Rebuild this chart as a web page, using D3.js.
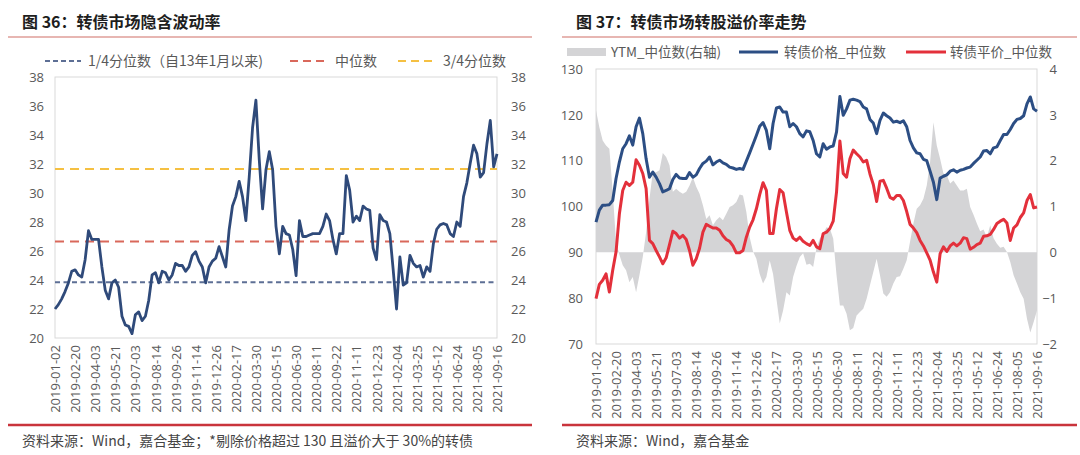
<!DOCTYPE html>
<html><head><meta charset="utf-8">
<script src="https://cdn.jsdelivr.net/npm/d3@7"></script>
<style>
body{margin:0;background:#fff;}
svg{display:block;}
text{font-family:"Open Sans","Noto Sans CJK SC",sans-serif;}
</style></head><body>
<svg id="c" width="1080" height="455"></svg>
<script>
// ---------- data ----------
const tickLabels = ["2019-01-02","2019-02-20","2019-04-03","2019-05-21","2019-07-03","2019-08-14","2019-09-26","2019-11-14","2019-12-26","2020-02-17","2020-03-30","2020-05-15","2020-06-30","2020-08-11","2020-09-22","2020-11-11","2020-12-23","2021-02-04","2021-03-25","2021-05-12","2021-06-24","2021-08-05","2021-09-16"];
const tickStep = 30;    // trading days between tick labels
const sampleStep = 5;   // trading days between readings

// Fig 36: implied volatility
const ivValues = [22.0,22.3,22.7,23.2,23.8,24.6,24.7,24.35,24.2,25.4,27.4,26.8,26.8,26.8,24.9,23.3,22.7,23.8,24.0,23.5,
  21.5,20.9,20.8,20.3,21.6,21.8,21.2,21.5,22.6,24.35,24.5,23.8,24.6,24.5,24.0,24.35,25.15,25.0,25.0,24.6,
  24.9,25.7,25.95,25.3,24.9,23.8,24.9,25.3,25.5,26.3,25.6,24.9,27.45,29.1,29.75,30.8,29.75,28.1,31.1,34.5,
  36.4,32.3,28.9,31.6,32.85,31.6,27.7,25.8,27.7,27.2,27.1,26.1,24.3,28.1,27.0,27.0,27.1,27.2,27.2,27.2,
  27.7,28.55,28.1,26.8,25.8,27.2,27.2,31.2,30.2,28.0,28.4,28.1,29.1,28.9,28.8,26.2,25.4,28.5,28.1,28.0,
  27.2,24.7,22.0,25.6,23.65,23.8,25.7,25.15,24.9,25.0,24.2,24.9,24.6,26.5,27.5,27.8,27.9,27.8,27.2,27.0,
  28.0,27.7,29.75,30.7,32.05,33.3,32.7,31.1,31.4,33.4,35.0,31.8,32.7];
const quartileNames = ["1/4分位数（自13年1月以来)","中位数","3/4分位数"];
const quartileValues = [23.85, 26.65, 31.65];

// Fig 37
const seriesNames = ["YTM_中位数(右轴)","转债价格_中位数","转债平价_中位数"];
const priceValues = [96.6,99.2,100.3,100.3,100.4,101.3,106.1,109.7,112.6,113.7,115.4,113.4,117.4,119.3,115.9,110.4,106.4,107.5,106.4,105.0,
  103.2,103.5,103.9,105.9,107.0,106.2,106.1,106.1,107.4,106.4,106.9,108.3,109.4,109.9,110.8,109.1,109.7,110.1,109.5,109.2,
  108.6,108.4,108.1,108.3,108.1,109.9,111.7,113.6,115.5,117.5,118.3,116.6,112.6,118.1,121.5,121.7,120.6,120.6,117.4,118.1,
  117.4,115.9,115.2,116.5,116.3,114.4,
  111.5,110.8,113.7,112.5,113.0,113.2,116.3,124.0,119.9,121.3,123.2,123.4,123.2,122.9,121.7,121.3,119.0,118.2,115.9,118.8,
  120.4,119.8,119.3,118.4,118.6,118.3,118.7,117.4,114.4,112.8,111.7,111.5,110.3,110.0,107.7,105.3,101.5,106.2,106.6,106.9,
  107.7,108.0,107.5,107.9,108.1,108.4,108.6,109.4,110.1,110.8,112.1,112.2,111.5,112.8,113.0,114.4,115.7,115.7,116.8,118.1,
  119.0,119.2,119.8,122.4,123.9,121.3,120.8];
const parityValues = [79.9,83.0,83.9,85.3,81.35,86.1,90.1,98.4,103.5,105.3,104.6,105.3,110.2,109.0,107.2,103.9,92.6,91.9,90.4,89.0,
  87.5,88.8,91.7,94.6,94.1,93.1,93.7,92.8,90.4,87.2,88.6,90.9,94.4,96.1,95.7,95.3,95.3,94.8,93.6,92.8,
  92.4,91.4,89.9,89.9,90.4,93.3,95.5,97.1,99.5,102.6,105.2,103.5,94.1,94.1,99.5,103.7,103.0,98.8,94.8,93.1,
  92.6,93.3,92.4,91.9,91.5,92.6,
  91.2,90.8,94.1,94.4,95.2,96.8,103.2,114.3,107.2,106.4,110.4,112.3,111.5,110.8,109.7,110.1,107.1,104.8,101.1,105.5,
  105.7,104.0,102.0,101.6,102.4,102.4,101.3,98.9,96.1,95.3,94.3,92.6,91.4,89.9,88.3,85.7,83.5,89.7,91.2,90.2,
  91.4,92.0,91.4,92.0,93.2,93.0,90.7,91.1,91.7,92.0,93.5,93.6,93.9,95.0,96.3,96.8,97.2,96.4,92.6,95.3,
  96.0,97.6,98.6,101.3,102.6,99.7,99.9];
const ytmValues = [3.1,2.73,2.44,2.33,2.26,1.32,0.23,-0.05,-0.28,-0.39,-0.65,-0.54,-0.87,-0.5,-0.1,0.44,1.17,1.75,1.75,1.79,
  2.17,2.08,1.9,1.32,1.39,1.32,1.28,1.32,1.46,1.64,1.43,1.28,1.03,0.73,0.81,0.59,0.7,0.77,0.7,0.84,
  0.99,1.03,1.1,1.26,1.24,0.88,0.33,0.02,-0.14,-0.47,-0.68,-0.54,-0.18,-0.47,-1.01,-1.55,-1.27,-0.87,-0.94,-0.54,
  -0.3,-0.1,-0.02,-0.27,-0.25,-0.32,
  0.1,0.3,0.41,0.55,0.52,0.3,-0.5,-1.16,-1.16,-1.34,-1.7,-1.65,-1.38,-1.3,-1.23,-1.01,-0.72,-0.43,-0.14,-0.5,
  -0.9,-0.97,-0.87,-0.68,-0.54,-0.52,-0.36,-0.17,0.23,0.63,0.95,1.03,1.17,1.46,1.97,2.84,2.33,2.04,1.72,1.68,
  1.5,1.57,1.46,1.35,1.35,1.39,0.99,0.82,0.63,0.46,0.5,0.33,0.59,0.31,0.19,0.1,0.12,0.01,-0.21,-0.5,
  -0.68,-0.87,-1.01,-1.45,-1.75,-1.52,-1.27];

// ---------- drawing ----------
const svg = d3.select("#c");
const lastDay = (tickLabels.length - 1) * tickStep;
const tickDays = d3.range(0, lastDay + 1, tickStep);
const toPts = arr => arr.map((v, i) => [i * sampleStep, v]);
const axisColor = "#595959";

function styleAxis(g) {
  g.select(".domain").remove();
  g.selectAll("text").attr("fill", axisColor).style("font-size", "13px");
}
function xAxis(x, y0) {
  const g = svg.append("g").attr("transform", `translate(0,${y0})`)
    .call(d3.axisBottom(x).tickValues(tickDays).tickFormat((d, i) => tickLabels[i]).tickSize(0));
  styleAxis(g);
  g.selectAll("text").attr("transform", "rotate(-90)").attr("text-anchor", "end")
    .attr("x", -7).attr("y", 0).attr("dy", "0.35em");
}
function header(x0, x1, tx, title) {
  svg.append("text").attr("x", tx).attr("y", 28).text(title)
    .style("font-family", '"Noto Sans CJK SC",sans-serif').style("font-weight", 700)
    .style("font-size", "16px").attr("fill", "#1e1e1e");
  svg.append("line").attr("x1", x0).attr("x2", x1).attr("y1", 37).attr("y2", 37)
    .attr("stroke", "#cf6f66").attr("stroke-width", 1.2);
  svg.append("line").attr("x1", x0).attr("x2", x1).attr("y1", 425).attr("y2", 425)
    .attr("stroke", "#c9343c").attr("stroke-width", 2.5);
}
function legendText(x, y, t, size) {
  svg.append("text").attr("x", x).attr("y", y).attr("dy", "0.35em").text(t)
    .style("font-size", (size || 14) + "px").attr("fill", "#595959")
    .style("font-family", '"Noto Sans CJK SC",sans-serif');
}

// ===== Panel 1 =====
{
  const L = 55, R = 497, T = 77, B = 338;
  const x = d3.scaleLinear().domain([0, lastDay]).range([L, R]);
  const y = d3.scaleLinear().domain([20, 38]).range([B, T]);
  header(8, 532, 22, "图 36：转债市场隐含波动率");
  svg.append("rect").attr("x", L).attr("y", T).attr("width", R - L).attr("height", B - T)
    .attr("fill", "none").attr("stroke", "#d9d9d9");
  const yt = d3.range(20, 39, 2);
  styleAxis(svg.append("g").attr("transform", `translate(${L},0)`)
    .call(d3.axisLeft(y).tickValues(yt).tickSize(0).tickPadding(11)));
  styleAxis(svg.append("g").attr("transform", `translate(${R},0)`)
    .call(d3.axisRight(y).tickValues(yt).tickSize(0).tickPadding(14)));
  xAxis(x, B);

  const qColors = ["#5d6f95", "#d9685b", "#f5c042"];
  const qDash = ["5,3.5", "9,6", "9,6"];
  quartileValues.forEach((v, i) => {
    svg.append("line").attr("x1", L).attr("x2", R).attr("y1", y(v)).attr("y2", y(v))
      .attr("stroke", qColors[i]).attr("stroke-width", 2).attr("stroke-dasharray", qDash[i]);
  });
  svg.append("path").datum(toPts(ivValues))
    .attr("d", d3.line().x(d => x(d[0])).y(d => y(d[1])))
    .attr("fill", "none").attr("stroke", "#2f4a7a").attr("stroke-width", 2.8)
    .attr("stroke-linejoin", "round");

  // legend
  const lx = [[45, 81, 88], [290, 324, 335], [398, 432, 443]];
  const ly = 61;
  lx.forEach((p, i) => {
    svg.append("line").attr("x1", p[0]).attr("x2", p[1]).attr("y1", ly).attr("y2", ly)
      .attr("stroke", qColors[i]).attr("stroke-width", 2).attr("stroke-dasharray", i === 0 ? "5,3" : "8,5");
    legendText(p[2], ly, quartileNames[i]);
  });
  svg.append("text").attr("x", 22).attr("y", 446).text("资料来源：Wind，嘉合基金；*剔除价格超过 130 且溢价大于 30%的转债")
    .style("font-family", '"Noto Sans CJK SC",sans-serif').style("font-size", "14px").attr("fill", "#444");
}

// ===== Panel 2 =====
{
  const L = 596, R = 1037, T = 69, B = 344;
  const x = d3.scaleLinear().domain([0, lastDay]).range([L, R]);
  const yL = d3.scaleLinear().domain([70, 130]).range([B, T]);
  const yR = d3.scaleLinear().domain([-2, 4]).range([B, T]);
  header(562, 1077, 576, "图 37：转债市场转股溢价率走势");
  svg.append("rect").attr("x", L).attr("y", T).attr("width", R - L).attr("height", B - T)
    .attr("fill", "none").attr("stroke", "#d9d9d9");
  styleAxis(svg.append("g").attr("transform", `translate(${L},0)`)
    .call(d3.axisLeft(yL).tickValues(d3.range(70, 131, 10)).tickSize(0).tickPadding(13)));
  const gr = svg.append("g").attr("transform", `translate(${R},0)`)
    .call(d3.axisRight(yR).tickValues(d3.range(-2, 5, 1)).tickFormat(d3.format("d")).tickSize(0).tickPadding(10));
  styleAxis(gr);
  gr.selectAll("text").attr("text-anchor", "end").attr("x", 20);
  xAxis(x, B);

  svg.append("path").datum(toPts(ytmValues))
    .attr("d", d3.area().x(d => x(d[0])).y0(yR(0)).y1(d => yR(d[1])))
    .attr("fill", "#d4d4d6");
  svg.append("path").datum(toPts(priceValues))
    .attr("d", d3.line().x(d => x(d[0])).y(d => yL(d[1])))
    .attr("fill", "none").attr("stroke", "#2c4e84").attr("stroke-width", 3).attr("stroke-linejoin", "round");
  svg.append("path").datum(toPts(parityValues))
    .attr("d", d3.line().x(d => x(d[0])).y(d => yL(d[1])))
    .attr("fill", "none").attr("stroke", "#e3303b").attr("stroke-width", 3).attr("stroke-linejoin", "round");

  const ly = 52;
  svg.append("rect").attr("x", 567).attr("y", ly - 4).attr("width", 39).attr("height", 8).attr("fill", "#d4d4d6");
  legendText(611, ly, seriesNames[0], 13.5);
  svg.append("line").attr("x1", 739).attr("x2", 778).attr("y1", ly).attr("y2", ly).attr("stroke", "#2c4e84").attr("stroke-width", 3);
  legendText(784, ly, seriesNames[1], 13.5);
  svg.append("line").attr("x1", 906).attr("x2", 946).attr("y1", ly).attr("y2", ly).attr("stroke", "#e3303b").attr("stroke-width", 3);
  legendText(950, ly, seriesNames[2], 13.5);
  svg.append("text").attr("x", 576).attr("y", 446).text("资料来源：Wind，嘉合基金")
    .style("font-family", '"Noto Sans CJK SC",sans-serif').style("font-size", "14px").attr("fill", "#444");
}
</script>
</body></html>
